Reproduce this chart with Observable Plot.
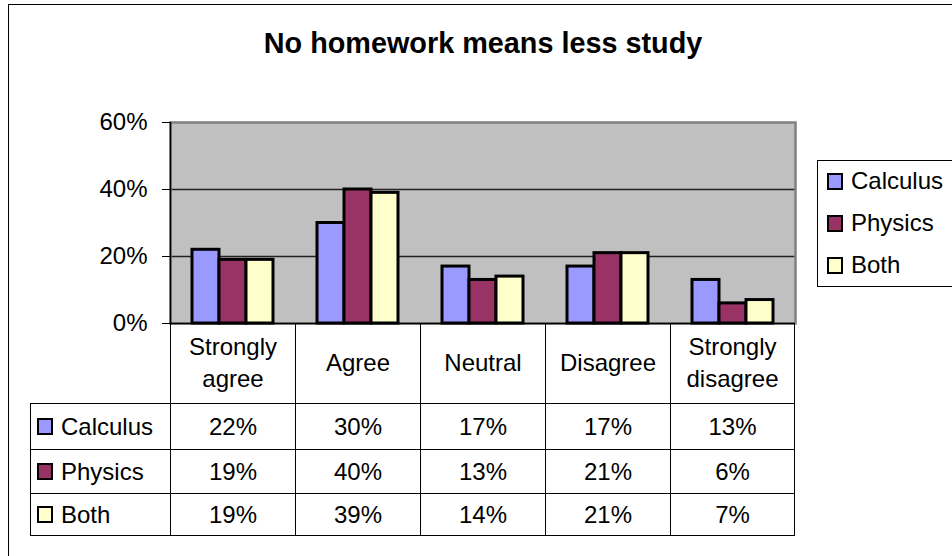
<!DOCTYPE html>
<html>
<head>
<meta charset="utf-8">
<script src="https://cdn.jsdelivr.net/npm/d3@7"></script>
<script src="https://cdn.jsdelivr.net/npm/@observablehq/plot@0.6"></script>
<style>
  html, body { margin: 0; padding: 0; background: #fff; }
  body { width: 952px; height: 556px; overflow: hidden; position: relative;
         font-family: "Liberation Sans", Arial, sans-serif; color: #000; }
  #outer { position: absolute; left: 8px; top: 4px; width: 1100px; height: 700px;
           border: 1.5px solid #000; box-sizing: border-box; }
  #title { position: absolute; left: 0; width: 966px; top: 29px; text-align: center;
           font-weight: bold; font-size: 28.8px; line-height: 1; white-space: nowrap; }
  #chart { position: absolute; left: 0; top: 0; }
  #chart svg { overflow: visible; }
  #table { position: absolute; left: 30px; top: 323px; display: grid;
           grid-template-columns: 140px repeat(5, 125px);
           grid-template-rows: 80px 46px 44px 43px; font-size: 24px; }
  #table div { box-sizing: border-box; display: flex; align-items: center; justify-content: center;
               text-align: center; }
  #table .hd { border-left: 1px solid #000; line-height: 32px; }
  #table .cell { border-left: 1px solid #000; border-top: 1px solid #000; }
  #table .last { border-right: 1px solid #000; }
  #table .bot { border-bottom: 1.5px solid #000; }
  #table .lab { justify-content: flex-start; padding-left: 6px; }
  .key { display: inline-block; width: 16px; height: 17px; box-sizing: border-box;
         border: 2.5px solid #000; margin-right: 8px; flex: none; }
  #legend { position: absolute; left: 817px; top: 160px; width: 200px; height: 127px;
            border: 1.5px solid #000; box-sizing: border-box; font-size: 24px; }
  #legend .row { position: absolute; left: 9px; height: 42px; display: flex; align-items: center; }
</style>
</head>
<body>
<div id="outer"></div>
<div id="title">No homework means less study</div>
<div id="chart"></div>
<div id="table"></div>
<div id="legend"></div>
<script>
const categories = ["Strongly agree", "Agree", "Neutral", "Disagree", "Strongly disagree"];
const categoryLabels = ["Strongly\nagree", "Agree", "Neutral", "Disagree", "Strongly\ndisagree"];
const series = ["Calculus", "Physics", "Both"];
const calculus = [0.22, 0.30, 0.17, 0.17, 0.13];
const physics  = [0.19, 0.40, 0.13, 0.21, 0.06];
const both     = [0.19, 0.39, 0.14, 0.21, 0.07];
const colors = ["#9999FF", "#993366", "#FFFFCC"];
const yTicks = [0, 0.2, 0.4, 0.6];

const seriesValues = [calculus, physics, both];
const data = [];
series.forEach((s, i) => categories.forEach((c, j) => data.push({series: s, category: c, value: seriesValues[i][j]})));

const pct = d3.format(".0%");

const chart = Plot.plot({
  width: 800,
  height: 330,
  marginLeft: 170,
  marginRight: 5,
  marginTop: 122,
  marginBottom: 7,
  style: {fontFamily: "'Liberation Sans', Arial, sans-serif", fontSize: "24px", color: "#000", background: "transparent", overflow: "visible"},
  fx: {domain: categories, padding: 0, axis: null},
  x: {domain: series, paddingInner: 0, paddingOuter: 0.78, axis: null},
  y: {domain: [0, 0.6], axis: null},
  color: {domain: series, range: colors},
  marks: [
    Plot.frame({facet: "super", fill: "#c0c0c0"}),
    Plot.ruleY([0.2, 0.4], {stroke: "#222", strokeWidth: 1.3}),
    Plot.frame({facet: "super", stroke: "#808080", strokeWidth: 2.5}),
    Plot.barY(data, {fx: "category", x: "series", y: "value", fill: "series", stroke: "#000", strokeWidth: 3}),
    Plot.ruleY([0], {stroke: "#000", strokeWidth: 1.5}),
    Plot.axisY({ticks: yTicks, tickFormat: pct, tickSize: 8, tickPadding: 15, fontSize: 24, label: null, stroke: "#000"}),
    Plot.frame({facet: "super", anchor: "left", stroke: "#000", strokeWidth: 1.5})
  ]
});
document.getElementById("chart").appendChild(chart);

// data table
const tbl = document.getElementById("table");
function cell(cls, html) { const d = document.createElement("div"); d.className = cls; d.innerHTML = html; tbl.appendChild(d); return d; }
cell("", "");
categoryLabels.forEach((c, j) => cell("hd" + (j === categories.length - 1 ? " last" : ""), c.replace("\n", "<br>")));
series.forEach((s, i) => {
  const bot = i === series.length - 1 ? " bot" : "";
  const lab = cell("cell lab" + bot, "");
  const k = document.createElement("span"); k.className = "key"; k.style.background = colors[i];
  lab.appendChild(k); lab.appendChild(document.createTextNode(s));
  seriesValues[i].forEach((v, j) => cell("cell" + bot + (j === categories.length - 1 ? " last" : ""), pct(v)));
});

// legend
const leg = document.getElementById("legend");
series.forEach((s, i) => {
  const r = document.createElement("div"); r.className = "row"; r.style.top = (-1 + 42 * i) + "px";
  const k = document.createElement("span"); k.className = "key"; k.style.background = colors[i];
  r.appendChild(k); r.appendChild(document.createTextNode(s));
  leg.appendChild(r);
});
</script>
</body>
</html>
